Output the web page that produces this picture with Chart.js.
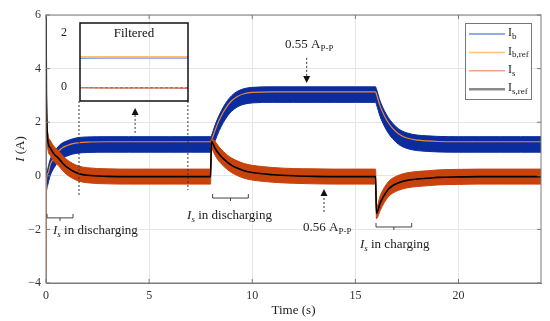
<!DOCTYPE html>
<html>
<head>
<meta charset="utf-8">
<script src="https://cdn.jsdelivr.net/npm/chart.js@4.4.1/dist/chart.umd.min.js"></script>
<style>
  body { margin: 0; background: #fff; }
  #wrap { position: relative; width: 550px; height: 321px; }
  #main { position: absolute; left: 0; top: 0; }
  #inset { position: absolute; left: 60px; top: 18px; }
</style>
</head>
<body>
<div id="wrap">
  <canvas id="main" width="550" height="321"></canvas>
  <canvas id="inset" width="132" height="88"></canvas>
</div>
<script>
// time base (s)
var time  = [0, 0.02, 0.1, 0.2, 0.4, 0.6, 0.8, 1.0, 1.3, 1.6, 2, 3, 4, 5, 6, 7, 7.98, 8.02, 8.2, 8.4, 8.6, 8.8, 9, 9.3, 9.6, 10, 11, 12, 13, 14, 15, 15.98, 16.02, 16.2, 16.4, 16.6, 16.8, 17.1, 17.5, 18, 18.5, 19, 20, 21, 22, 23, 24];
// I_b reference (orange line inside blue band)
var ibRef = [-4.6, -0.2, 0.1, 0.4, 0.7, 0.92, 1.05, 1.12, 1.2, 1.24, 1.26, 1.27, 1.27, 1.27, 1.27, 1.27, 1.27, 1.32, 1.7, 2.08, 2.38, 2.62, 2.8, 2.97, 3.06, 3.11, 3.13, 3.13, 3.13, 3.13, 3.13, 3.13, 3.05, 2.6, 2.25, 1.98, 1.78, 1.56, 1.41, 1.33, 1.3, 1.28, 1.27, 1.27, 1.27, 1.27, 1.27];
// I_b measured, upper / lower edge of the ripple band
var ibHi  = [-0.2, 0.0, 0.3, 0.6, 0.9, 1.1, 1.23, 1.3, 1.38, 1.43, 1.45, 1.46, 1.46, 1.46, 1.46, 1.46, 1.46, 1.5, 1.9, 2.27, 2.57, 2.81, 2.99, 3.16, 3.25, 3.3, 3.32, 3.32, 3.32, 3.32, 3.32, 3.32, 3.24, 2.79, 2.44, 2.17, 1.97, 1.75, 1.6, 1.52, 1.49, 1.47, 1.46, 1.46, 1.46, 1.46, 1.46];
var ibLo  = [-0.8, -0.6, -0.3, 0.0, 0.31, 0.53, 0.66, 0.73, 0.81, 0.85, 0.87, 0.88, 0.88, 0.88, 0.88, 0.88, 0.88, 0.93, 1.31, 1.69, 1.99, 2.23, 2.41, 2.58, 2.67, 2.72, 2.74, 2.74, 2.74, 2.74, 2.74, 2.74, 2.66, 2.21, 1.86, 1.59, 1.39, 1.17, 1.02, 0.94, 0.91, 0.89, 0.88, 0.88, 0.88, 0.88, 0.88];
// I_s reference (black)
var isRef = [6.5, 3.0, 1.25, 1.05, 0.8, 0.66, 0.48, 0.33, 0.18, 0.08, 0.02, -0.02, -0.03, -0.03, -0.03, -0.03, -0.03, 1.28, 1.02, 0.8, 0.64, 0.5, 0.39, 0.28, 0.19, 0.12, 0.04, 0.0, -0.02, -0.03, -0.03, -0.03, -1.4, -1.02, -0.72, -0.5, -0.37, -0.26, -0.17, -0.12, -0.09, -0.06, -0.04, -0.03, -0.03, -0.03, -0.03];
// I_s measured band
var isHi  = [6.8, 3.3, 1.55, 1.33, 1.08, 0.94, 0.76, 0.61, 0.46, 0.36, 0.3, 0.26, 0.25, 0.25, 0.25, 0.25, 0.25, 1.4, 1.28, 1.07, 0.91, 0.77, 0.66, 0.55, 0.46, 0.39, 0.31, 0.27, 0.26, 0.25, 0.25, 0.25, -1.2, -0.75, -0.44, -0.22, -0.09, 0.02, 0.11, 0.16, 0.19, 0.22, 0.24, 0.25, 0.25, 0.25, 0.25];
var isLo  = [6.2, 2.7, 0.95, 0.77, 0.52, 0.38, 0.2, 0.05, -0.1, -0.2, -0.26, -0.3, -0.31, -0.31, -0.31, -0.31, -0.31, 1.0, 0.76, 0.53, 0.37, 0.23, 0.12, 0.0, -0.09, -0.16, -0.24, -0.28, -0.3, -0.31, -0.31, -0.31, -1.6, -1.3, -1.0, -0.78, -0.65, -0.54, -0.45, -0.4, -0.37, -0.34, -0.32, -0.31, -0.31, -0.31, -0.31];

// inset ("Filtered")
var insetTime = [1.6, 3, 4.5, 6, 6.88];
var ibFilt    = [1.06, 1.07, 1.07, 1.07, 1.07];
var ibRefFilt = [1.12, 1.12, 1.12, 1.12, 1.12];
var isFilt    = [-0.03, -0.04, -0.04, -0.04, -0.05];
var isRefFilt = [-0.02, -0.03, -0.03, -0.03, -0.04];

var xTicks = [0, 5, 10, 15, 20];
var yTicks = [-4, -2, 0, 2, 4, 6];
var insetYTicks = [0, 2];
var legendSubs = ['b', 'b,ref', 's', 's,ref'];

var SERIF = "'Liberation Serif', 'DejaVu Serif', serif";
var BLUE = '#0b2c9e';
var RED = '#c8420c';

function pts(xs, ys) {
    return xs.map(function(x, i) { return { x: x, y: ys[i] }; });
}

// text with subscript, returns end x
function subText(ctx, x, y, main, sub, size, italicMain, italicSub, ratio) {
    ctx.font = (italicMain ? 'italic ' : '') + size + 'px ' + SERIF;
    ctx.fillText(main, x, y);
    x += ctx.measureText(main).width;
    ctx.font = (italicSub ? 'italic ' : '') + Math.round(size * (ratio || 0.68)) + 'px ' + SERIF;
    ctx.fillText(sub, x, y + size * 0.28);
    return x + ctx.measureText(sub).width;
}

function dottedArrow(ctx, x, y0, y1) {
    ctx.save();
    ctx.strokeStyle = '#333';
    ctx.lineWidth = 1;
    ctx.setLineDash([2, 2]);
    var dir = y1 > y0 ? 1 : -1;
    ctx.beginPath();
    ctx.moveTo(x, y0);
    ctx.lineTo(x, y1 - dir * 6);
    ctx.stroke();
    ctx.setLineDash([]);
    ctx.fillStyle = '#111';
    ctx.beginPath();
    ctx.moveTo(x, y1);
    ctx.lineTo(x - 3.5, y1 - dir * 7);
    ctx.lineTo(x + 3.5, y1 - dir * 7);
    ctx.closePath();
    ctx.fill();
    ctx.restore();
}

function bracket(ctx, x1, x2, y) {
    var m = (x1 + x2) / 2;
    ctx.beginPath();
    ctx.moveTo(x1, y - 4); ctx.lineTo(x1, y); ctx.lineTo(x2, y); ctx.lineTo(x2, y - 4);
    ctx.moveTo(m, y); ctx.lineTo(m, y + 3);
    ctx.stroke();
}

var decor = {
    id: 'decor',
    afterDraw: function(chart) {
        var ctx = chart.ctx, a = chart.chartArea;
        var xs = chart.scales.x, ys = chart.scales.y;
        var X = function(v) { return xs.getPixelForValue(v); };
        var Y = function(v) { return ys.getPixelForValue(v); };
        ctx.save();

        // frame and inward ticks
        ctx.strokeStyle = '#7a7a7a';
        ctx.lineWidth = 1;
        ctx.strokeRect(a.left, a.top, a.right - a.left, a.bottom - a.top);
        ctx.beginPath();
        xTicks.forEach(function(v) {
            ctx.moveTo(X(v), a.bottom); ctx.lineTo(X(v), a.bottom - 4);
            ctx.moveTo(X(v), a.top); ctx.lineTo(X(v), a.top + 4);
        });
        yTicks.forEach(function(v) {
            ctx.moveTo(a.left, Y(v)); ctx.lineTo(a.left + 4, Y(v));
            ctx.moveTo(a.right, Y(v)); ctx.lineTo(a.right - 4, Y(v));
        });
        ctx.stroke();

        // y title: I (A)
        ctx.save();
        ctx.translate(21, (a.top + a.bottom) / 2);
        ctx.rotate(-Math.PI / 2);
        ctx.fillStyle = '#222';
        ctx.textBaseline = 'middle';
        ctx.font = 'italic 13px ' + SERIF;
        var wI = ctx.measureText('I').width;
        ctx.font = '13px ' + SERIF;
        var wA = ctx.measureText(' (A)').width;
        var sx = -(wI + wA) / 2;
        ctx.font = 'italic 13px ' + SERIF;
        ctx.fillText('I', sx, 0);
        ctx.font = '13px ' + SERIF;
        ctx.fillText(' (A)', sx + wI, 0);
        ctx.restore();

        // legend
        var colors = ['#7092e2', '#ffc27a', '#f3a283', '#8a8a8a'];
        var widths = [1.5, 1.5, 1.5, 2.5];
        var bw = 66, bh = 76, bx = a.right - 10 - bw, by = a.top + 8;
        ctx.fillStyle = '#fff';
        ctx.fillRect(bx, by, bw, bh);
        ctx.strokeStyle = '#777';
        ctx.strokeRect(bx + 0.5, by + 0.5, bw, bh);
        ctx.textBaseline = 'middle';
        legendSubs.forEach(function(s, i) {
            var ly = by + 11 + i * 18.4;
            ctx.strokeStyle = colors[i];
            ctx.lineWidth = widths[i];
            ctx.beginPath(); ctx.moveTo(bx + 4, ly); ctx.lineTo(bx + 40, ly); ctx.stroke();
            ctx.fillStyle = '#222';
            subText(ctx, bx + 43, ly - 1, 'I', s, 12, false, false, 0.72);
        });

        // connector lines to the inset
        ctx.strokeStyle = '#333';
        ctx.lineWidth = 1;
        ctx.setLineDash([2, 2]);
        ctx.beginPath();
        ctx.moveTo(X(1.6), Y(2.79)); ctx.lineTo(X(1.6), Y(-0.72));
        ctx.moveTo(X(6.88), Y(2.79)); ctx.lineTo(X(6.88), Y(-0.53));
        ctx.stroke();
        ctx.setLineDash([]);

        dottedArrow(ctx, X(4.32), Y(1.6), Y(2.53));
        dottedArrow(ctx, X(12.64), Y(4.4), Y(3.46));
        dottedArrow(ctx, X(13.48), Y(-1.35), Y(-0.49));

        // brackets
        ctx.strokeStyle = '#444';
        ctx.lineWidth = 1;
        bracket(ctx, X(0.05), X(1.31), Y(-1.57));
        bracket(ctx, X(8.08), X(9.81), Y(-0.83));
        bracket(ctx, X(16.0), X(17.73), Y(-1.91));

        // annotation texts
        ctx.fillStyle = '#222';
        ctx.textBaseline = 'middle';
        var ex;
        ex = subText(ctx, X(0.34), Y(-2.06), 'I', 's', 13, true, true);
        ctx.font = '13px ' + SERIF; ctx.fillText(' in discharging', ex, Y(-2.06));
        ex = subText(ctx, X(6.84), Y(-1.5), 'I', 's', 13, true, true);
        ctx.font = '13px ' + SERIF; ctx.fillText(' in discharging', ex, Y(-1.5));
        ex = subText(ctx, X(15.22), Y(-2.58), 'I', 's', 13, true, true);
        ctx.font = '13px ' + SERIF; ctx.fillText(' in charging', ex, Y(-2.58));
        subText(ctx, X(11.59), Y(4.88), '0.55 A', 'P-P', 13, false, false);
        subText(ctx, X(12.46), Y(-1.95), '0.56 A', 'P-P', 13, false, false);

        ctx.restore();
    }
};

new Chart(document.getElementById('main'), {
    type: 'line',
    data: {
        datasets: [
            { data: pts(time, ibHi), borderColor: BLUE, borderWidth: 1, backgroundColor: BLUE, fill: false, order: 5 },
            { data: pts(time, ibLo), borderColor: BLUE, borderWidth: 1, backgroundColor: BLUE, fill: '-1', order: 4 },
            { data: pts(time, ibRef), borderColor: '#e8893a', borderWidth: 1.2, fill: false, order: 3 },
            { data: pts(time, isHi), borderColor: RED, borderWidth: 1, backgroundColor: RED, fill: false, order: 2 },
            { data: pts(time, isLo), borderColor: RED, borderWidth: 1, backgroundColor: RED, fill: '-1', order: 1 },
            { data: pts(time, isRef), borderColor: '#000', borderWidth: 1.6, fill: false, order: 0 }
        ]
    },
    options: {
        responsive: false,
        animation: false,
        layout: { padding: { top: 15, right: 9, left: 0, bottom: 0 } },
        elements: { point: { radius: 0 }, line: { cubicInterpolationMode: 'monotone' } },
        plugins: { legend: { display: false }, tooltip: { enabled: false } },
        scales: {
            x: {
                type: 'linear', min: 0, max: 24,
                afterBuildTicks: function(s) { s.ticks = xTicks.map(function(v) { return { value: v }; }); },
                afterFit: function(s) { s.height = 38; },
                grid: { color: '#e6e6e6', drawTicks: false },
                border: { color: '#7a7a7a' },
                ticks: { padding: 6, color: '#333', font: { family: SERIF, size: 12 } },
                title: { display: true, text: 'Time (s)', color: '#222', font: { family: SERIF, size: 13 }, padding: { top: 0, bottom: 3 } }
            },
            y: {
                min: -4, max: 6,
                afterBuildTicks: function(s) { s.ticks = yTicks.map(function(v) { return { value: v }; }); },
                afterFit: function(s) { s.width = 46; },
                grid: { color: '#e6e6e6', drawTicks: false },
                border: { color: '#7a7a7a' },
                ticks: {
                    padding: 5, color: '#333', font: { family: SERIF, size: 12 },
                    callback: function(v) { return String(v).replace('-', '\u2212'); }
                }
            }
        }
    },
    plugins: [decor]
});

var insetFrame = {
    id: 'insetFrame',
    afterDraw: function(chart) {
        var ctx = chart.ctx, a = chart.chartArea;
        ctx.save();
        ctx.strokeStyle = '#111';
        ctx.lineWidth = 1.5;
        ctx.strokeRect(a.left, a.top, a.right - a.left, a.bottom - a.top);
        ctx.fillStyle = '#111';
        ctx.font = '13px ' + SERIF;
        ctx.textAlign = 'center';
        ctx.textBaseline = 'middle';
        ctx.fillText('Filtered', (a.left + a.right) / 2, a.top + 11);
        ctx.restore();
    }
};

new Chart(document.getElementById('inset'), {
    type: 'line',
    data: {
        datasets: [
            { data: pts(insetTime, ibRefFilt), borderColor: '#ffbf6e', borderWidth: 1.5 },
            { data: pts(insetTime, ibFilt), borderColor: '#7e9ce6', borderWidth: 1.5 },
            { data: pts(insetTime, isFilt), borderColor: '#d07a5a', borderWidth: 1.5 },
            { data: pts(insetTime, isRefFilt), borderColor: '#111', borderWidth: 1, borderDash: [3, 2] }
        ]
    },
    options: {
        responsive: false,
        animation: false,
        layout: { padding: { top: 5, right: 4, bottom: 5, left: 0 } },
        elements: { point: { radius: 0 } },
        plugins: { legend: { display: false }, tooltip: { enabled: false } },
        scales: {
            x: { type: 'linear', min: 1.6, max: 6.88, display: false },
            y: {
                min: -0.52, max: 2.37,
                afterBuildTicks: function(s) { s.ticks = insetYTicks.map(function(v) { return { value: v }; }); },
                afterFit: function(s) { s.width = 20; s.paddingTop = 0; s.paddingBottom = 0; },
                grid: { display: false },
                border: { display: false },
                ticks: { padding: 5, color: '#222', font: { family: SERIF, size: 12 } }
            }
        }
    },
    plugins: [insetFrame]
});
</script>
</body>
</html>
